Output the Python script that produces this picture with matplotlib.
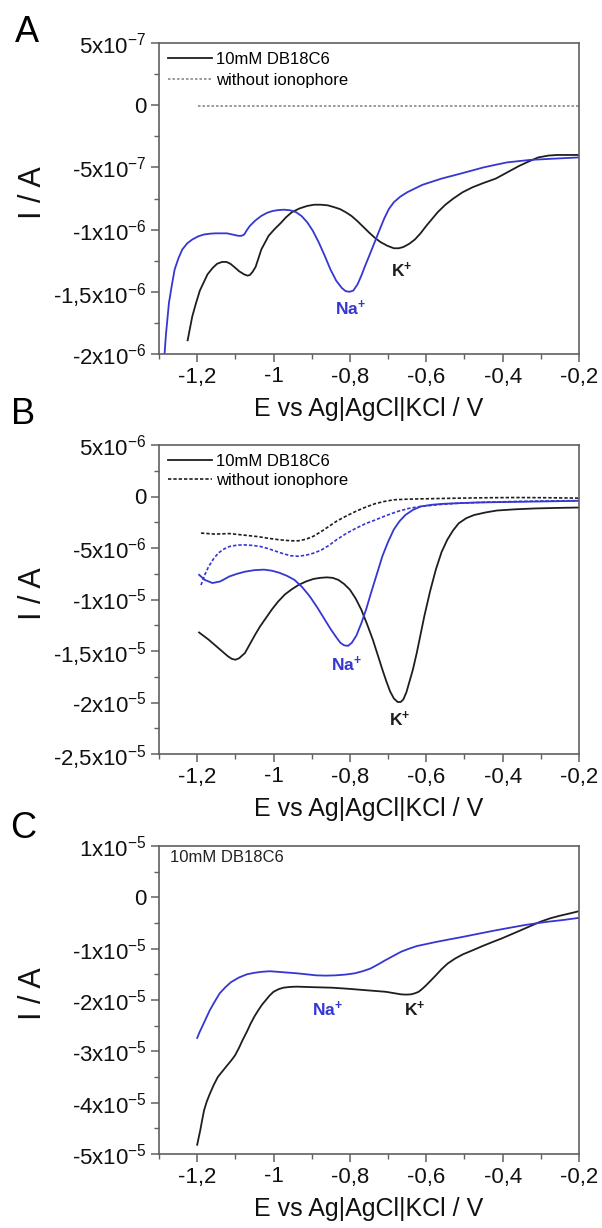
import matplotlib
matplotlib.use("Agg")
import matplotlib.pyplot as plt
from matplotlib.ticker import MultipleLocator

plt.rcParams['font.family'] = ['Liberation Sans', 'DejaVu Sans']
plt.rcParams['mathtext.fontset'] = 'custom'
plt.rcParams['mathtext.rm'] = 'Liberation Sans'
plt.rcParams['mathtext.it'] = 'Liberation Sans:italic'
plt.rcParams['mathtext.bf'] = 'Liberation Sans:bold'

BLACK = '#1e1e1e'
BLUE = '#3636d2'
GRAY = '#8a8a8a'
SPINE = '#606060'

# ---------------- Panel A data (I in 1e-6 A) ----------------
a_k_E = [-1.225, -1.213, -1.203, -1.193, -1.173, -1.160, -1.148, -1.135, -1.123, -1.113,
         -1.103, -1.090, -1.077, -1.068, -1.062, -1.055, -1.047, -1.040,
         -1.032, -1.013, -0.997, -0.982, -0.967, -0.952, -0.932, -0.912, -0.894, -0.876,
         -0.858, -0.841, -0.826, -0.811, -0.796, -0.781, -0.766, -0.751,
         -0.735, -0.720, -0.702, -0.685, -0.672, -0.660, -0.645, -0.630, -0.615, -0.600,
         -0.585, -0.570, -0.550, -0.529, -0.505, -0.479, -0.450, -0.418, -0.388, -0.358,
         -0.330, -0.307, -0.280, -0.257, -0.230, -0.200]
a_k_I = [-1.89, -1.70, -1.59, -1.49, -1.36, -1.31, -1.275, -1.26, -1.26, -1.275,
         -1.30, -1.335, -1.36, -1.37, -1.365, -1.34, -1.30, -1.235,
         -1.16, -1.05, -0.995, -0.95, -0.90, -0.86, -0.83, -0.81, -0.80, -0.80,
         -0.805, -0.82, -0.835, -0.86, -0.89, -0.93, -0.975, -1.02,
         -1.065, -1.10, -1.13, -1.15, -1.15, -1.14, -1.115, -1.08, -1.03, -0.97,
         -0.915, -0.86, -0.80, -0.75, -0.70, -0.66, -0.625, -0.59, -0.54, -0.49,
         -0.45, -0.42, -0.405, -0.40, -0.40, -0.40]
a_na_E = [-1.290, -1.282, -1.274, -1.266, -1.259, -1.249, -1.239, -1.226, -1.213, -1.198,
          -1.183, -1.167, -1.152, -1.137, -1.122, -1.107, -1.092, -1.084, -1.077,
          -1.070, -1.062, -1.047, -1.032, -1.017, -1.002, -0.987, -0.972, -0.956, -0.941,
          -0.927, -0.912, -0.897, -0.882, -0.866, -0.851, -0.836, -0.821, -0.811, -0.801,
          -0.791, -0.780, -0.770, -0.760, -0.748, -0.735, -0.722, -0.710, -0.698, -0.685,
          -0.668, -0.650, -0.630, -0.610, -0.585, -0.560, -0.535, -0.510, -0.480, -0.450,
          -0.420, -0.389, -0.359, -0.329, -0.298, -0.268, -0.235, -0.200]
a_na_I = [-2.20, -1.85, -1.59, -1.44, -1.32, -1.23, -1.16, -1.11, -1.08, -1.055,
          -1.04, -1.033, -1.03, -1.03, -1.03, -1.04, -1.05, -1.05, -1.04,
          -1.005, -0.97, -0.925, -0.89, -0.865, -0.85, -0.843, -0.84, -0.845, -0.86,
          -0.89, -0.94, -1.01, -1.10, -1.21, -1.32, -1.41, -1.47, -1.495, -1.50,
          -1.49, -1.44, -1.37, -1.29, -1.20, -1.10, -1.00, -0.91, -0.835, -0.78,
          -0.735, -0.70, -0.67, -0.64, -0.615, -0.59, -0.57, -0.55, -0.525, -0.50,
          -0.48, -0.46, -0.45, -0.44, -0.435, -0.43, -0.425, -0.42]
a_blank_E = [-1.197, -0.200]
a_blank_I = [-0.005, -0.005]

# ---------------- Panel B data (I in 1e-6 A) ----------------
b_k_E = [-1.195, -1.17, -1.145, -1.12, -1.110, -1.100, -1.090, -1.075, -1.06, -1.048, -1.035,
         -1.02, -1.005, -0.988, -0.97, -0.952, -0.935, -0.915, -0.895, -0.878, -0.86,
         -0.845, -0.83, -0.815, -0.80, -0.785, -0.77, -0.755, -0.74, -0.727, -0.715,
         -0.705, -0.695, -0.685, -0.675, -0.667, -0.66, -0.652, -0.645, -0.635, -0.625,
         -0.615, -0.605, -0.59, -0.575, -0.56, -0.545, -0.53, -0.515, -0.495, -0.475,
         -0.445, -0.415, -0.365, -0.315, -0.26, -0.20]
b_k_I = [-13.2, -13.9, -14.7, -15.5, -15.75, -15.85, -15.7, -15.2, -14.2, -13.4, -12.6,
         -11.8, -11.0, -10.2, -9.5, -9.0, -8.6, -8.25, -8.0, -7.9, -7.85,
         -7.9, -8.1, -8.5, -9.05, -9.9, -11.0, -12.4, -13.9, -15.4, -16.8,
         -17.9, -18.9, -19.6, -19.95, -19.95, -19.7, -19.0, -18.1, -16.8, -15.2,
         -13.4, -11.6, -9.2, -7.1, -5.4, -4.2, -3.3, -2.6, -2.1, -1.8,
         -1.55, -1.36, -1.24, -1.16, -1.11, -1.07]
b_na_E = [-1.195, -1.18, -1.16, -1.14, -1.115, -1.095, -1.075, -1.05, -1.025, -1.005, -0.985,
          -0.965, -0.945, -0.925, -0.905, -0.885, -0.865, -0.85, -0.835, -0.825, -0.815,
          -0.805, -0.795, -0.783, -0.77, -0.757, -0.745, -0.73, -0.715, -0.70, -0.685,
          -0.67, -0.655, -0.635, -0.615, -0.585, -0.555, -0.51, -0.465, -0.415, -0.365,
          -0.28, -0.20]
b_na_I = [-7.6, -8.1, -8.4, -8.25, -7.75, -7.5, -7.3, -7.15, -7.1, -7.2, -7.4,
          -7.7, -8.1, -8.8, -9.7, -10.8, -12.0, -12.9, -13.7, -14.2, -14.45,
          -14.5, -14.2, -13.5, -12.3, -10.9, -9.4, -7.6, -5.8, -4.4, -3.2,
          -2.4, -1.8, -1.3, -0.97, -0.8, -0.71, -0.64, -0.58, -0.55, -0.52,
          -0.47, -0.42]
b_na0_E = [-1.19, -1.18, -1.17, -1.158, -1.145, -1.13, -1.115, -1.095, -1.075, -1.055, -1.035,
           -1.015, -0.995, -0.975, -0.955, -0.935, -0.915, -0.895, -0.875, -0.855,
           -0.835, -0.81, -0.785, -0.76, -0.735, -0.705, -0.675, -0.645, -0.615, -0.565,
           -0.515, -0.44, -0.365, -0.28, -0.20]
b_na0_I = [-8.6, -7.6, -6.8, -6.1, -5.5, -5.1, -4.85, -4.72, -4.7, -4.75, -4.85,
           -5.05, -5.3, -5.55, -5.75, -5.8, -5.7, -5.5, -5.2, -4.75,
           -4.2, -3.6, -3.1, -2.65, -2.3, -1.85, -1.45, -1.15, -0.97, -0.78,
           -0.65, -0.55, -0.48, -0.43, -0.40]
b_k0_E = [-1.19, -1.155, -1.115, -1.09, -1.065, -1.04, -1.015, -0.985, -0.955, -0.935,
          -0.915, -0.895, -0.875, -0.855, -0.835, -0.81, -0.785, -0.76, -0.735, -0.71,
          -0.685, -0.65, -0.615, -0.515, -0.44, -0.365, -0.28, -0.20]
b_k0_I = [-3.55, -3.65, -3.6, -3.7, -3.8, -3.9, -4.05, -4.2, -4.3, -4.3,
          -4.15, -3.85, -3.4, -2.9, -2.4, -1.9, -1.45, -1.05, -0.71, -0.48,
          -0.32, -0.26, -0.23, -0.16, -0.12, -0.10, -0.12, -0.16]

# ---------------- Panel C data (I in 1e-5 A) ----------------
c_k_E = [-1.2, -1.196, -1.192, -1.187, -1.182, -1.175, -1.167, -1.157, -1.146, -1.133,
         -1.121, -1.111, -1.101, -1.091, -1.081, -1.07, -1.06, -1.05, -1.04, -1.03,
         -1.02, -1.01, -1.0, -0.987, -0.974, -0.956, -0.939, -0.918, -0.898, -0.873,
         -0.848, -0.807, -0.757, -0.706, -0.686, -0.666, -0.653, -0.64, -0.63, -0.62,
         -0.61, -0.60, -0.588, -0.575, -0.56, -0.544, -0.524, -0.504, -0.478, -0.453,
         -0.428, -0.402, -0.377, -0.352, -0.326, -0.301, -0.276, -0.251, -0.225, -0.2]
c_k_I = [-4.82, -4.68, -4.54, -4.34, -4.15, -3.98, -3.83, -3.66, -3.50, -3.38,
         -3.27, -3.18, -3.08, -2.94, -2.78, -2.62, -2.46, -2.32, -2.20, -2.09,
         -2.00, -1.91, -1.84, -1.79, -1.76, -1.745, -1.74, -1.745, -1.75, -1.755,
         -1.76, -1.78, -1.81, -1.84, -1.865, -1.89, -1.895, -1.89, -1.87, -1.84,
         -1.78, -1.71, -1.62, -1.52, -1.40, -1.29, -1.19, -1.11, -1.03, -0.95,
         -0.875, -0.80, -0.72, -0.64, -0.555, -0.475, -0.41, -0.36, -0.315, -0.27]
c_na_E = [-1.2, -1.194, -1.187, -1.177, -1.167, -1.154, -1.141, -1.126, -1.111, -1.09,
          -1.07, -1.05, -1.03, -1.01, -0.99, -0.965, -0.939, -0.913, -0.888, -0.863,
          -0.838, -0.812, -0.787, -0.767, -0.747, -0.727, -0.706, -0.686, -0.666, -0.645,
          -0.625, -0.6, -0.575, -0.54, -0.504, -0.464, -0.423, -0.383, -0.342, -0.311,
          -0.281, -0.24, -0.2]
c_na_I = [-2.74, -2.63, -2.52, -2.36, -2.20, -2.03, -1.87, -1.75, -1.65, -1.56,
          -1.50, -1.47, -1.45, -1.44, -1.45, -1.465, -1.48, -1.50, -1.52, -1.525,
          -1.52, -1.505, -1.48, -1.44, -1.39, -1.31, -1.22, -1.14, -1.06, -1.00,
          -0.95, -0.91, -0.87, -0.82, -0.77, -0.71, -0.65, -0.595, -0.54, -0.505,
          -0.475, -0.44, -0.40]

# ---------------- ticks ----------------
x_ticks = [-1.2, -1.0, -0.8, -0.6, -0.4, -0.2]
x_labels = ['-1,2', '-1', '-0,8', '-0,6', '-0,4', '-0,2']
a_yticks = [5e-7, 0, -5e-7, -1e-6, -1.5e-6, -2e-6]
a_ylabels = [r'5x10$^{-7}$', '0', r'-5x10$^{-7}$', r'-1x10$^{-6}$', r'-1,5x10$^{-6}$', r'-2x10$^{-6}$']
b_yticks = [5e-6, 0, -5e-6, -1e-5, -1.5e-5, -2e-5, -2.5e-5]
b_ylabels = [r'5x10$^{-6}$', '0', r'-5x10$^{-6}$', r'-1x10$^{-5}$', r'-1,5x10$^{-5}$',
             r'-2x10$^{-5}$', r'-2,5x10$^{-5}$']
c_yticks = [1e-5, 0, -1e-5, -2e-5, -3e-5, -4e-5, -5e-5]
c_ylabels = [r'1x10$^{-5}$', '0', r'-1x10$^{-5}$', r'-2x10$^{-5}$', r'-3x10$^{-5}$',
             r'-4x10$^{-5}$', r'-5x10$^{-5}$']


def scaled(vals, f):
    return [v * f for v in vals]


fig = plt.figure(figsize=(6.02, 12.28), dpi=100)
W, H = 602, 1228


def make_ax(top_px, bot_px):
    l, r = 159, 579
    return fig.add_axes([l / W, 1 - bot_px / H, (r - l) / W, (bot_px - top_px) / H])


axA = make_ax(43, 354)
axB = make_ax(445, 754)
axC = make_ax(846, 1154)


def style(ax, yticks, ylabels, ylim, yminor):
    ax.set_xlim(-1.3, -0.2)
    ax.set_ylim(*ylim)
    ax.set_xticks(x_ticks, x_labels)
    ax.set_yticks(yticks, ylabels)
    ax.xaxis.set_minor_locator(MultipleLocator(0.1))
    ax.yaxis.set_minor_locator(MultipleLocator(yminor))
    for s in ax.spines.values():
        s.set_color(SPINE)
        s.set_linewidth(1.2)
    ax.tick_params(which='major', direction='out', length=6, width=1.1, color=SPINE,
                   labelsize=16, pad=3, labelcolor='#111111')
    ax.tick_params(which='minor', direction='out', length=3.5, width=1.0, color=SPINE)
    ax.set_xlabel('E vs Ag|AgCl|KCl / V', fontsize=18, labelpad=7, color='#111111')
    ax.set_ylabel('I / A', fontsize=22, color='#111111')
    ax.yaxis.set_label_coords(-0.265, 0.52)


LW = 1.3
ann = dict(fontsize=12.5, fontweight='bold', ha='center', va='center')

# Panel A
axA.plot(a_k_E, scaled(a_k_I, 1e-6), color=BLACK, lw=LW, label='10mM DB18C6')
axA.plot(a_na_E, scaled(a_na_I, 1e-6), color=BLUE, lw=LW)
axA.plot(a_blank_E, scaled(a_blank_I, 1e-6), color=GRAY, lw=1.2, ls=(0, (1.5, 1.2)),
         label='without ionophore')
style(axA, a_yticks, a_ylabels, (-2e-6, 5e-7), 2.5e-7)
axA.legend(loc='upper left', frameon=False, fontsize=12, handlelength=2.6, handletextpad=0.25,
           labelspacing=0.35, borderaxespad=0.25, borderpad=0.3)
axA.text(-0.665, -1.33e-6, 'K$^{\\mathbf{+}}$', color=BLACK, **ann)
axA.text(-0.798, -1.63e-6, 'Na$^{\\mathbf{+}}$', color=BLUE, **ann)

# Panel B
axB.plot(b_k_E, scaled(b_k_I, 1e-6), color=BLACK, lw=LW, label='10mM DB18C6')
axB.plot(b_k0_E, scaled(b_k0_I, 1e-6), color=BLACK, lw=1.2, ls=(0, (2, 1.2)),
         label='without ionophore')
axB.plot(b_na_E, scaled(b_na_I, 1e-6), color=BLUE, lw=LW)
axB.plot(b_na0_E, scaled(b_na0_I, 1e-6), color=BLUE, lw=1.2, ls=(0, (2, 1.2)))
style(axB, b_yticks, b_ylabels, (-2.5e-5, 5e-6), 2.5e-6)
axB.legend(loc='upper left', frameon=False, fontsize=12, handlelength=2.6, handletextpad=0.25,
           labelspacing=0.2, borderaxespad=0.25, borderpad=0.3)
axB.text(-0.81, -1.63e-5, 'Na$^{\\mathbf{+}}$', color=BLUE, **ann)
axB.text(-0.67, -2.165e-5, 'K$^{\\mathbf{+}}$', color=BLACK, **ann)

# Panel C
axC.plot(c_k_E, scaled(c_k_I, 1e-5), color=BLACK, lw=LW)
axC.plot(c_na_E, scaled(c_na_I, 1e-5), color=BLUE, lw=LW)
style(axC, c_yticks, c_ylabels, (-5e-5, 1e-5), 5e-6)
axC.text(-1.27, 0.77e-5, '10mM DB18C6', color='#222222', fontsize=12, ha='left', va='center')
axC.text(-0.858, -2.19e-5, 'Na$^{\\mathbf{+}}$', color=BLUE, **ann)
axC.text(-0.63, -2.19e-5, 'K$^{\\mathbf{+}}$', color=BLACK, **ann)

# Panel letters
fig.text(27 / W, 1 - 32 / H, 'A', fontsize=26, ha='center', va='center')
fig.text(23 / W, 1 - 415 / H, 'B', fontsize=26, ha='center', va='center')
fig.text(23 / W, 1 - 828 / H, 'C', fontsize=26, ha='center', va='center')

fig.savefig('out.png', dpi=100)
